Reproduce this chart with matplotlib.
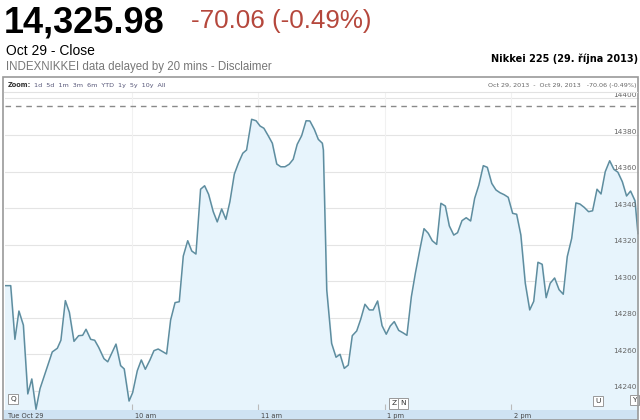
import matplotlib
matplotlib.use("Agg")
import matplotlib.pyplot as plt
from matplotlib.patches import Rectangle
from matplotlib.lines import Line2D

# trading minutes since 9:00 open (lunch 11:30-12:30 removed) and index level
minutes = [0, 2.7, 4.7, 6.6, 8.7, 10.8, 12.7, 14.7, 16.6, 22.4,
           24.8, 26.5, 28.6, 30.5, 32.7, 34.9, 36.8, 38.4, 40.6, 42.5,
           44.4, 46.9, 48.7, 52.6, 54.8, 56.5, 58.8, 60.5, 62.7, 64.6,
           66.5, 68.7, 70.6, 72.6, 74.7, 76.6, 78.5, 80.6, 82.6, 84.5,
           86.6, 88.5, 90.5, 92.7, 94.6, 96.5, 98.7, 100.6, 102.7, 104.7,
           106.6, 108.7, 110.6, 112.7, 114.5, 116.9, 119, 120.9, 122.7, 124.8,
           126.7, 128.8, 130.7, 132.7, 134.7, 136.6, 138.5, 140.6, 142.7, 144.5,
           146.6, 148.5, 150.4, 150.9, 152.5, 154.8, 156.9, 158.8, 160.8, 162.7,
           164.6, 166.7, 168.6, 170.6, 172.7, 174.5, 176.6, 178.7, 180.7, 182.6,
           184.5, 186.6, 188.6, 190.5, 192.6, 194.5, 196.5, 198.6, 200.6, 202.5,
           204.6, 206.6, 208.7, 210.6, 212.7, 214.5, 216.6, 218.6, 220.7, 222.6,
           224.6, 226.7, 228.6, 230.7, 232.7, 234.6, 236.6, 238.5, 240.6, 242.5,
           244.5, 246.6, 248.7, 250.6, 252.6, 254.6, 256.5, 258.4, 260.5, 262.6,
           264.6, 266.5, 268.6, 270.6, 272.5, 274.5, 276.6, 278.5, 280.6, 282.5,
           284.5, 286.6, 288.6, 290.5, 292.6, 294.6, 296.5, 298.6, 300]

prices = [14297.5, 14297.5, 14268.1, 14283.6, 14275.9, 14238.2, 14246.4, 14229.8, 14241.1, 14261.2,
          14263.2, 14267.6, 14289.3, 14282.9, 14267.0, 14270.1, 14270.3, 14273.6, 14268.1, 14267.6,
          14263.7, 14257.5, 14255.8, 14265.5, 14253.7, 14251.9, 14234.3, 14238.9, 14250.9, 14256.8,
          14251.7, 14256.8, 14261.9, 14262.8, 14261.4, 14260.1, 14278.7, 14288.2, 14288.7, 14313.7,
          14322.1, 14316.5, 14314.8, 14350.3, 14352.2, 14347.5, 14338.0, 14332.4, 14339.5, 14333.8,
          14343.5, 14358.6, 14364.5, 14370.0, 14371.8, 14388.6, 14387.8, 14384.9, 14383.7, 14379.5,
          14375.5, 14364.1, 14362.6, 14362.6, 14364.0, 14366.7, 14374.9, 14379.6, 14387.8, 14387.7,
          14383.1, 14377.6, 14375.5, 14371.8, 14295.1, 14265.9, 14258.3, 14259.9, 14252.2, 14254.0,
          14270.1, 14272.7, 14279.1, 14287.3, 14284.2, 14284.2, 14289.1, 14275.6, 14270.9, 14275.4,
          14277.8, 14273.0, 14271.7, 14270.3, 14291.4, 14304.3, 14316.5, 14328.7, 14326.2, 14322.1,
          14320.1, 14342.6, 14341.1, 14330.2, 14325.2, 14326.5, 14333.1, 14334.7, 14332.9, 14345.3,
          14352.6, 14363.2, 14362.3, 14353.5, 14349.9, 14348.4, 14347.3, 14345.9, 14337.1, 14336.6,
          14325.2, 14298.8, 14284.2, 14288.9, 14310.3, 14309.2, 14290.9, 14298.8, 14301.7, 14295.3,
          14292.8, 14313.4, 14323.4, 14342.8, 14342.2, 14340.4, 14338.0, 14338.5, 14350.3, 14347.7,
          14359.9, 14365.9, 14361.2, 14359.6, 14354.4, 14346.6, 14349.3, 14344.0, 14326.0]

prev_close = 14396.04
y_ticks = [14240, 14260, 14280, 14300, 14320, 14340, 14360, 14380, 14400]
x_ticks = [0, 60, 120, 180, 240]
x_labels = ["Tue Oct 29", "10 am", "11 am", "1 pm", "2 pm"]
flags = [("Q", 3.8, 14235.4), ("Z", 184.4, 14233.0), ("N", 188.8, 14233.0),
         ("U", 281.0, 14234.3), ("Y", 298.2, 14234.9)]

W, H = 640, 420


def fx(x):
    return x / W


def fy(y):
    return 1 - y / H


fig = plt.figure(figsize=(6.4, 4.2), dpi=100)
fig.patch.set_facecolor("white")

# header
fig.text(fx(4), fy(33), "14,325.98", fontsize=26, fontweight="bold",
         family="Liberation Sans", va="baseline", color="black")
fig.text(fx(191), fy(28), "-70.06 (-0.49%)", fontsize=18.7,
         family="Liberation Sans", va="baseline", color="#b5473c")
fig.text(fx(6), fy(55), "Oct 29 - Close", fontsize=10,
         family="Liberation Sans", va="baseline", color="black")
fig.text(fx(6), fy(70), "INDEXNIKKEI data delayed by 20 mins - Disclaimer",
         fontsize=8.3, family="Liberation Sans", va="baseline", color="#777777")
fig.text(fx(638), fy(62), "Nikkei 225 (29. října 2013)", fontsize=7.0,
         fontweight="bold", family="DejaVu Sans", ha="right", va="baseline")

# chart frame and zoom bar
fig.patches.append(Rectangle((fx(3), 0), fx(635), fy(77), transform=fig.transFigure,
                             fill=False, edgecolor="#9a9a9a", lw=1.2))
fig.lines.append(Line2D([fx(4), fx(637)], [fy(92), fy(92)], transform=fig.transFigure,
                        color="#e2e2e2", lw=0.8))
fig.text(fx(8), fy(85), "Zoom:", fontsize=4.8, fontweight="bold", va="center",
         family="DejaVu Sans", color="#333333")
fig.text(fx(34), fy(85), "1d  5d  1m  3m  6m  YTD  1y  5y  10y  All", fontsize=4.6,
         va="center", family="DejaVu Sans", color="#555577")
fig.text(fx(636), fy(85), "Oct 29, 2013  -  Oct 29, 2013   -70.06 (-0.49%)", fontsize=4.6,
         va="center", ha="right", family="DejaVu Sans", color="#666666")

# main plot
ax = fig.add_axes([fx(5), 10 / H, fx(634), 317 / H])
ax.set_xlim(0, 300.5)
ax.set_ylim(14229.4, 14403)
for s in ax.spines.values():
    s.set_visible(False)
ax.set_facecolor("white")
for v in y_ticks:
    ax.axhline(v, color="#e4e4e4", lw=0.8, zorder=0)
for m in x_ticks[1:]:
    ax.axvline(m, color="#f1f1f1", lw=0.8, zorder=0)
ax.fill_between(minutes, prices, 14200, color="#e7f4fc", zorder=1)
ax.plot(minutes, prices, color="#5e8d9f", lw=1.1, zorder=2)
ax.axhline(prev_close, color="#8a8a8a", lw=1, dashes=(4, 3.5), zorder=3)
ax.set_xticks(x_ticks[1:])
ax.set_yticks([])
ax.tick_params(axis="x", direction="in", length=4, color="#bbbbbb", labelbottom=False)
for v in y_ticks:
    ax.annotate(str(v), xy=(1, v), xycoords=("axes fraction", "data"),
                xytext=(-1.5, 2.5), textcoords="offset points", ha="right", va="center",
                fontsize=5.3, family="DejaVu Sans", color="#666666", zorder=4)
for lab, m, v in flags:
    ax.text(m, v, lab, fontsize=5.3, ha="center", va="center", family="DejaVu Sans",
            color="#333333", zorder=5,
            bbox=dict(boxstyle="square,pad=0.3", fc="white", ec="#999999", lw=0.7))

# bottom time band
band = fig.add_axes([fx(4), 0, fx(634), 10 / H])
band.set_facecolor("#cfe3f3")
band.set_xlim(-0.5, 300.5)
band.set_ylim(0, 1)
band.set_xticks([])
band.set_yticks([])
for s in band.spines.values():
    s.set_visible(False)
for m, lab in zip(x_ticks, x_labels):
    band.text(m + 1.5, 0.4, lab, fontsize=4.8, va="center", ha="left",
              family="DejaVu Sans", color="#444444")

fig.savefig("out.png", dpi=100)
